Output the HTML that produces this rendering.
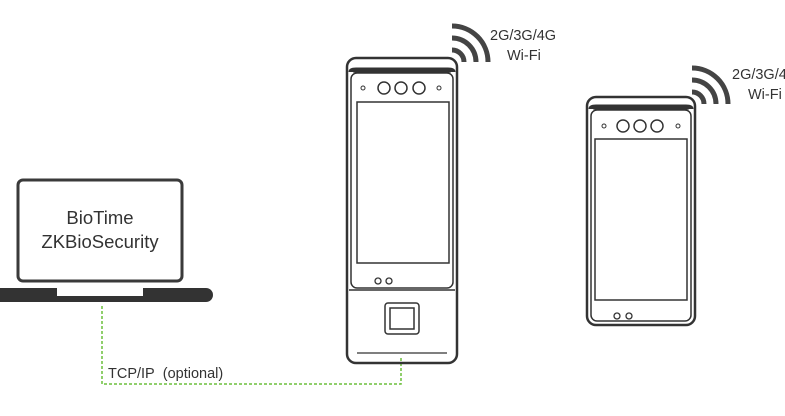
<!DOCTYPE html>
<html><head><style>body{margin:0;background:#fff}svg{display:block}</style></head><body>
<svg width="785" height="416" viewBox="0 0 785 416" xmlns="http://www.w3.org/2000/svg" font-family="Liberation Sans, sans-serif">
<!-- laptop -->
<rect x="18" y="180" width="164" height="101" rx="5" fill="#fff" stroke="#3a3a3a" stroke-width="3"/>
<text x="100" y="224" font-size="18.5" text-anchor="middle" fill="#333">BioTime</text>
<text x="100" y="248" font-size="18.5" text-anchor="middle" fill="#333">ZKBioSecurity</text>
<path d="M0 288 H206 A7 7 0 0 1 206 302 H0 Z" fill="#333"/>
<rect x="57" y="287" width="86" height="9" fill="#fff"/>
<!-- dashed -->
<path d="M102 306 V384 H401 V356" fill="none" stroke="#6cbf3c" stroke-width="1.5" stroke-dasharray="3,2"/>
<text x="108" y="378" font-size="14.5" fill="#333">TCP/IP&#160;&#160;(optional)</text>
<!-- device 1 -->
<g fill="none" stroke="#333">
<rect x="347" y="58" width="110" height="305" rx="9" stroke-width="2.5"/>
<path d="M351 72 Q351 70 356 70 H448 Q453 70 453 72" stroke-width="5"/>
<rect x="351" y="73" width="102" height="215" rx="6" stroke-width="1.5"/>
<rect x="357" y="102" width="92" height="161" stroke-width="1.5"/>
<circle cx="384" cy="88" r="6" stroke-width="1.5"/><circle cx="401" cy="88" r="6" stroke-width="1.5"/><circle cx="419" cy="88" r="6" stroke-width="1.5"/>
<circle cx="363" cy="88" r="2" stroke-width="1"/><circle cx="439" cy="88" r="2" stroke-width="1"/>
<circle cx="378" cy="281" r="3" stroke-width="1.3"/><circle cx="389" cy="281" r="3" stroke-width="1.3"/>
<line x1="349" y1="290" x2="455" y2="290" stroke-width="1.5"/>
<rect x="385" y="303" width="34" height="31" rx="3" stroke-width="1.5"/>
<rect x="390" y="308" width="24" height="21" stroke-width="1.5"/>
<line x1="357" y1="353" x2="447" y2="353" stroke-width="1.2"/>
</g>
<g fill="none" stroke="#444" stroke-width="5">
<path d="M452 50 A12 12 0 0 1 464 62"/>
<path d="M452 38 A24 24 0 0 1 476 62"/>
<path d="M452 26 A36 36 0 0 1 488 62"/>
</g>
<text x="490" y="40" font-size="14.5" fill="#333">2G/3G/4G</text>
<text x="507" y="60" font-size="14.5" fill="#333">Wi-Fi</text>
<!-- device 2 -->
<g fill="none" stroke="#333">
<rect x="587" y="97" width="108" height="228" rx="9" stroke-width="2.5"/>
<path d="M591 109 Q591 107 596 107 H686 Q691 107 691 109" stroke-width="5"/>
<rect x="591" y="110" width="100" height="211" rx="6" stroke-width="1.5"/>
<rect x="595" y="139" width="92" height="161" stroke-width="1.5"/>
<circle cx="623" cy="126" r="6" stroke-width="1.5"/><circle cx="640" cy="126" r="6" stroke-width="1.5"/><circle cx="657" cy="126" r="6" stroke-width="1.5"/>
<circle cx="604" cy="126" r="2" stroke-width="1"/><circle cx="678" cy="126" r="2" stroke-width="1"/>
<circle cx="617" cy="316" r="3" stroke-width="1.3"/><circle cx="629" cy="316" r="3" stroke-width="1.3"/>
</g>
<g fill="none" stroke="#444" stroke-width="5">
<path d="M692 92 A12 12 0 0 1 704 104"/>
<path d="M692 80 A24 24 0 0 1 716 104"/>
<path d="M692 68 A36 36 0 0 1 728 104"/>
</g>
<text x="732" y="79" font-size="14.5" fill="#333">2G/3G/4G</text>
<text x="748" y="99" font-size="14.5" fill="#333">Wi-Fi</text>
</svg>
</body></html>
